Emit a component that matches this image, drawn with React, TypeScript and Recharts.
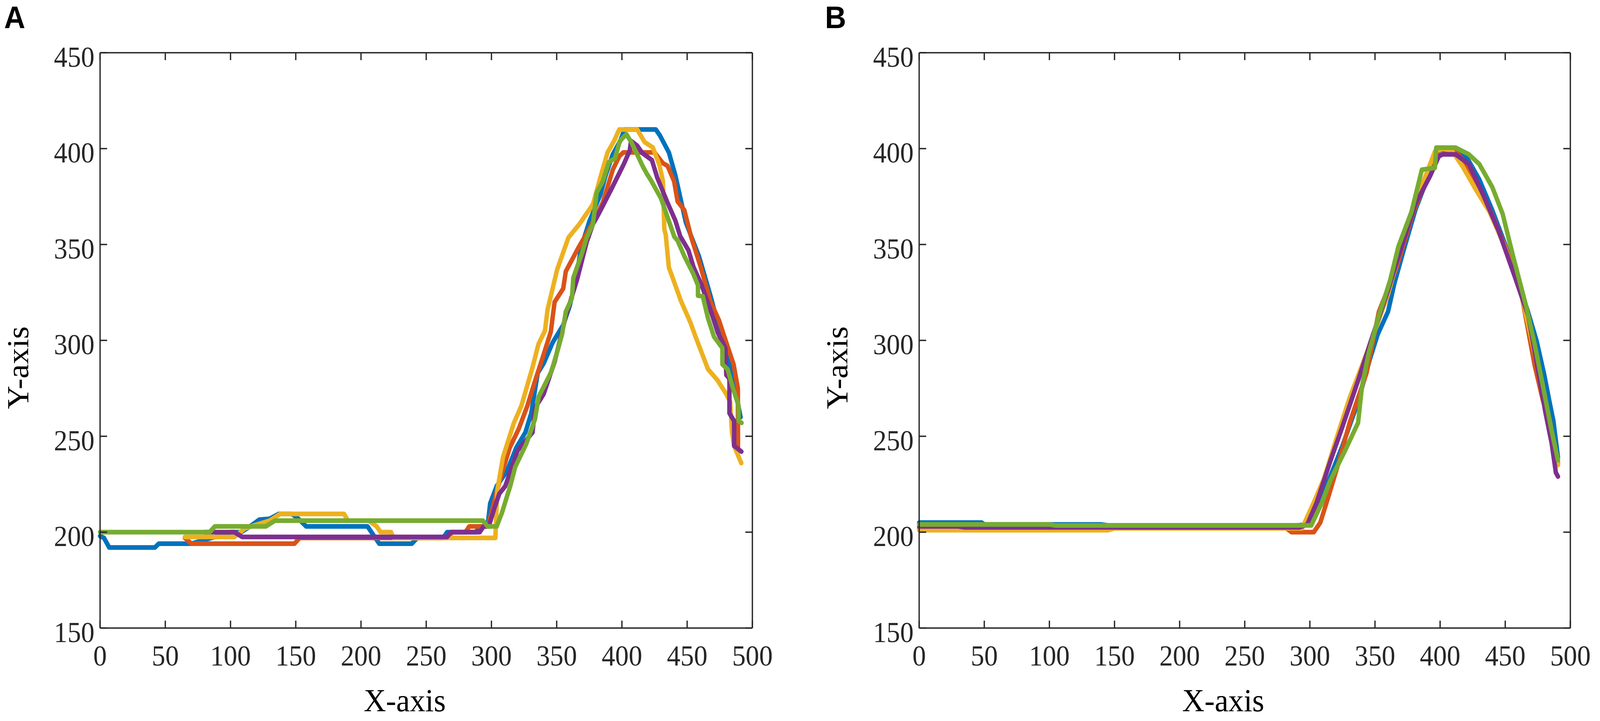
import React from "react";
import { LineChart, Line, XAxis, YAxis, ReferenceLine } from "recharts";

// Two MATLAB-style panels (A, B): five x/y trajectories each, default MATLAB colour order.

type Pt = [number, number];

const xTicks = [0, 50, 100, 150, 200, 250, 300, 350, 400, 450, 500];
const yTicks = [150, 200, 250, 300, 350, 400, 450];
const seriesColors = ["#0072BD", "#D95319", "#EDB120", "#7E2F8E", "#77AC30"];

// ---- panel A ----
const aBlue: Pt[] = [
  [0, 198], [3, 197], [7, 192], [42, 192], [45, 194], [70, 194], [75, 195], [88, 197.5], [100, 200], [108, 200],
  [115, 203], [122, 206.5], [130, 207], [137, 209.5], [147, 209.5], [152, 207], [158, 203], [205, 203], [210, 198],
  [214, 194], [239, 194], [243, 197], [263, 197], [266, 200], [288, 200], [291, 203], [297, 203], [299, 215],
  [304, 224], [312, 232], [319, 244], [326, 252], [330.5, 262], [335.5, 283], [340, 288], [347, 299], [355, 308],
  [360, 318], [365.5, 334], [368.5, 348], [375, 362], [383.5, 376], [387.5, 386], [393, 397], [398.7, 404],
  [402, 410], [426, 410], [429, 407], [436, 398], [441, 386], [449, 361.5], [459, 344], [468, 323], [475, 305],
  [480, 293], [485, 280], [488, 270], [491, 260],
];
const aOrange: Pt[] = [
  [65, 197], [70, 194], [149, 194], [153, 197], [266, 197], [270, 200], [280, 200], [283, 203], [297, 203],
  [300, 210], [304, 221], [307.7, 230], [314, 244], [321, 254], [327.6, 266], [333, 278], [339, 290.5],
  [345.5, 304.5], [348.4, 320], [355, 327], [357, 336], [366.4, 348], [374, 357], [379.7, 364], [385.4, 372],
  [393, 389], [398, 396], [401, 398], [425, 398], [431.4, 392.4], [435, 391], [440, 383], [442.7, 372.4],
  [447.8, 368], [452.9, 354.3], [460.5, 338], [468, 320], [474.4, 310.5], [478.5, 302], [485.6, 287.5],
  [488.9, 275], [489, 242],
];
const aYellow: Pt[] = [
  [65, 197.5], [103, 197.5], [111, 202], [130, 206], [138, 209.5], [187, 209.5], [190, 206], [206, 206], [212, 203],
  [215, 200], [223, 200], [225, 197], [303, 197], [304.5, 222], [308.8, 239], [317, 256.6], [323, 266],
  [331.5, 286], [336, 298], [341, 305], [343, 316], [350.4, 337], [359, 353.6], [367.4, 360.6], [377.8, 371],
  [383.5, 385], [389, 398], [394, 404], [398, 410], [411.7, 410], [417.4, 403.4], [423.7, 400.6], [426.2, 396],
  [428.7, 391.5], [431.4, 383.3], [432.5, 358], [433.6, 355], [436, 338], [438.7, 333], [445, 321],
  [452.7, 309], [456.4, 302], [466, 285], [473.5, 279], [480, 272], [483, 268], [484.4, 252], [486, 245],
  [491.5, 236],
];
const aPurple: Pt[] = [
  [80, 200], [103, 200], [109, 197.5], [266, 197.5], [269, 200], [291, 200], [294, 203], [298, 203], [302, 212],
  [306, 220], [310.6, 224], [320, 242.5], [331.5, 252], [333.4, 264.7], [340, 272], [348.5, 289], [357, 312.7],
  [365.5, 331.4], [373, 351.3], [377.8, 360.6], [382.6, 366.5], [392, 379], [401.5, 392], [406, 399], [407, 404],
  [411.7, 401.5], [415.5, 397.8], [423, 394], [427, 385], [434.6, 372.4], [441, 362.4], [444.7, 354.3],
  [451, 347], [455, 338], [461, 329], [468.8, 314], [473.5, 304], [479.3, 296], [480, 282], [482.4, 280],
  [482.4, 262], [486, 258], [486, 245], [491.6, 242],
];
const aGreen: Pt[] = [
  [0, 200], [84, 200], [88, 203], [127, 203], [134, 206], [293.5, 206], [297, 203], [304, 203], [308, 210],
  [312.5, 220], [314.4, 224], [318.2, 234], [326.7, 246], [333.4, 259], [336.2, 270.6], [345.7, 283.4],
  [350.4, 294], [354.2, 303.4], [357, 315], [361.7, 322], [362.7, 332.5], [369.3, 345.4], [373, 353.6],
  [377.8, 360.6], [380.6, 377], [385.4, 383], [390, 393], [394.7, 395], [398.4, 404], [403.4, 407.5],
  [407.2, 403.4], [416.1, 390.6], [419, 387], [422.4, 383.3], [430, 374], [440.2, 354], [442.7, 352],
  [447.8, 344], [454.5, 335], [458.3, 328.7], [458.3, 323.3], [462, 323], [466, 311.5], [470.5, 302], [477, 296],
  [477, 287.5], [481, 285], [485.6, 274], [489.4, 266], [489.4, 258], [491.7, 257],
];

// ---- panel B ----
const bBlue: Pt[] = [
  [0, 205], [48, 205], [50, 204], [140, 204], [145, 203.5], [290, 203.5], [298, 204], [305, 212], [315, 228],
  [325, 245], [337, 268], [346, 290], [352, 303], [360, 315], [365, 330], [372, 347], [381, 368], [390, 384],
  [396, 394], [400, 400], [412, 400], [420, 396], [430, 384], [440, 368], [450, 350], [459, 332], [467, 316],
  [474, 300], [480, 282], [484, 268], [487, 258], [490.5, 239],
];
const bOrange: Pt[] = [
  [0, 202], [50, 202], [55, 203], [280, 203], [286, 200], [303, 200], [308, 205], [314, 218], [322, 236],
  [330.5, 257], [343.5, 283], [353, 315], [366, 337], [379.5, 367], [392.5, 388], [399, 399.5], [412, 398.5],
  [418.5, 393], [430, 380], [441.5, 363], [453, 344], [463, 322], [472.6, 287], [479, 268.5], [484, 259],
  [490.5, 236],
];
const bYellow: Pt[] = [
  [0, 201], [145, 201], [150, 202], [294, 202], [302.7, 215], [310.9, 228], [320, 248], [330.5, 270],
  [343.5, 293], [360, 324], [376, 363], [389, 386], [396, 398.5], [402, 400], [409, 399], [417, 391], [428, 378],
  [438, 367], [449.6, 349], [463, 322], [474, 289], [482.4, 263], [490.5, 235],
];
const bPurple: Pt[] = [
  [0, 203], [30, 203], [35, 202.5], [292, 202.5], [298, 204], [305, 215], [315.7, 237], [325, 255], [337, 279],
  [347, 300], [360, 326], [370, 348], [381, 371], [392.5, 386], [399, 396], [402, 397], [412, 397], [422, 392],
  [433, 376], [445, 357], [458, 332], [467.6, 313], [474, 289], [480.7, 263], [485.6, 246.5], [488.9, 231],
  [490.5, 229],
];
const bGreen: Pt[] = [
  [0, 204], [100, 204], [105, 203.5], [301, 203.5], [309, 215], [315.7, 227], [327, 242.5], [337, 257],
  [340, 276], [345, 293], [353, 313], [361.5, 331], [368, 349], [378, 367], [386, 389], [396, 390], [397, 400.5],
  [412, 400.5], [422, 397], [430, 392], [440, 380], [448, 366], [456, 344], [466, 318], [472.6, 298], [479, 276],
  [485.6, 253], [490.5, 237.5],
];

const FIG_W = 4317;
const FIG_H = 1846;
const INK = "#262626";
const SERIF = '"Liberation Serif", "Times New Roman", serif';
const PLOT_TOP = 135;
const PLOT_H = 1473;
const X_AXIS_H = 238;
const TICK_LEN = 19;

const toRows = (pts: Pt[]) => pts.map(([x, y]) => ({ x, y }));

// no page margin / scrollbars, so the figure can be fitted to the viewport
if (typeof document !== "undefined") {
  document.documentElement.style.overflow = "hidden";
  document.body.style.margin = "0";
  document.body.style.overflow = "hidden";
}

function XTick(props: any) {
  const { x, y, payload } = props;
  return (
    <g>
      <line x1={x} y1={y} x2={x} y2={y - TICK_LEN} stroke={INK} strokeWidth={3.5} />
      <line x1={x} y1={y - PLOT_H} x2={x} y2={y - PLOT_H + TICK_LEN} stroke={INK} strokeWidth={3.5} />
      <text x={x} y={y + 96} textAnchor="middle" fontFamily={SERIF} fontSize={73} fill={INK}>
        {payload.value}
      </text>
    </g>
  );
}

function YTick(props: any) {
  const { x, y, payload, plotW } = props;
  return (
    <g>
      <line x1={x} y1={y} x2={x + TICK_LEN} y2={y} stroke={INK} strokeWidth={3.5} />
      <line x1={x + plotW} y1={y} x2={x + plotW - TICK_LEN} y2={y} stroke={INK} strokeWidth={3.5} />
      <text x={x - 15} y={y + 36} textAnchor="end" fontFamily={SERIF} fontSize={73} fill={INK}>
        {payload.value}
      </text>
    </g>
  );
}

function Panel({ left, width, axisW, rightPad, series }: {
  left: number; width: number; axisW: number; rightPad: number; series: Pt[][];
}) {
  const plotW = width - axisW - rightPad;
  return (
    <div style={{ position: "absolute", left, top: 0 }}>
      <LineChart width={width} height={FIG_H} margin={{ top: PLOT_TOP, right: rightPad, bottom: 0, left: 0 }}>
        <XAxis
          type="number"
          dataKey="x"
          domain={[0, 500]}
          ticks={xTicks}
          interval={0}
          height={X_AXIS_H}
          tickSize={0}
          tickMargin={0}
          tickLine={false}
          axisLine={{ stroke: INK, strokeWidth: 3.5 }}
          tick={(p: any) => <XTick {...p} />}
          label={{
            content: ({ viewBox }: any) => (
              <text
                x={viewBox.x + viewBox.width / 2 - 58}
                y={viewBox.y + 213}
                textAnchor="middle"
                fontFamily={SERIF}
                fontSize={83}
                fill="#000"
              >
                X-axis
              </text>
            ),
          }}
        />
        <YAxis
          type="number"
          domain={[150, 450]}
          ticks={yTicks}
          interval={0}
          width={axisW}
          tickSize={0}
          tickMargin={0}
          tickLine={false}
          axisLine={{ stroke: INK, strokeWidth: 3.5 }}
          tick={(p: any) => <YTick {...p} plotW={plotW} />}
          label={{
            content: ({ viewBox }: any) => {
              const lx = viewBox.x + viewBox.width - 194;
              const ly = viewBox.y + viewBox.height / 2 + 70;
              return (
                <text
                  x={lx}
                  y={ly}
                  transform={`rotate(-90, ${lx}, ${ly})`}
                  textAnchor="middle"
                  fontFamily={SERIF}
                  fontSize={83}
                  fill="#000"
                >
                  Y-axis
                </text>
              );
            },
          }}
        />
        <ReferenceLine y={450} stroke={INK} strokeWidth={3.5} />
        <ReferenceLine x={500} stroke={INK} strokeWidth={3.5} />
        {series.map((pts, i) => (
          <Line
            key={i}
            data={toRows(pts)}
            dataKey="y"
            type="linear"
            stroke={seriesColors[i]}
            strokeWidth={12}
            strokeLinejoin="round"
            strokeLinecap="round"
            dot={false}
            activeDot={false}
            isAnimationActive={false}
          />
        ))}
      </LineChart>
    </div>
  );
}

export default function App() {
  const vw = typeof window !== "undefined" ? window.innerWidth || FIG_W : FIG_W;
  const vh = typeof window !== "undefined" ? window.innerHeight || FIG_H : FIG_H;
  const sx = vw / FIG_W;
  const sy = vh / FIG_H;
  return (
    <div
      style={{
        position: "absolute",
        left: 0,
        top: 0,
        width: FIG_W,
        height: FIG_H,
        background: "#fff",
        transformOrigin: "0 0",
        transform: `scale(${sx}, ${sy})`,
      }}
    >
      <Panel left={0} width={2160} axisW={270} rightPad={130} series={[aBlue, aOrange, aYellow, aPurple, aGreen]} />
      <Panel left={2160} width={2157} axisW={320} rightPad={80} series={[bBlue, bOrange, bYellow, bPurple, bGreen]} />
      <svg width={FIG_W} height={FIG_H} style={{ position: "absolute", left: 0, top: 0, pointerEvents: "none" }}>
        <text x={11} y={72} fontFamily='"Liberation Sans", Arial, sans-serif' fontWeight={700} fontSize={79}>A</text>
        <text x={2226} y={72} fontFamily='"Liberation Sans", Arial, sans-serif' fontWeight={700} fontSize={79}>B</text>
      </svg>
    </div>
  );
}
